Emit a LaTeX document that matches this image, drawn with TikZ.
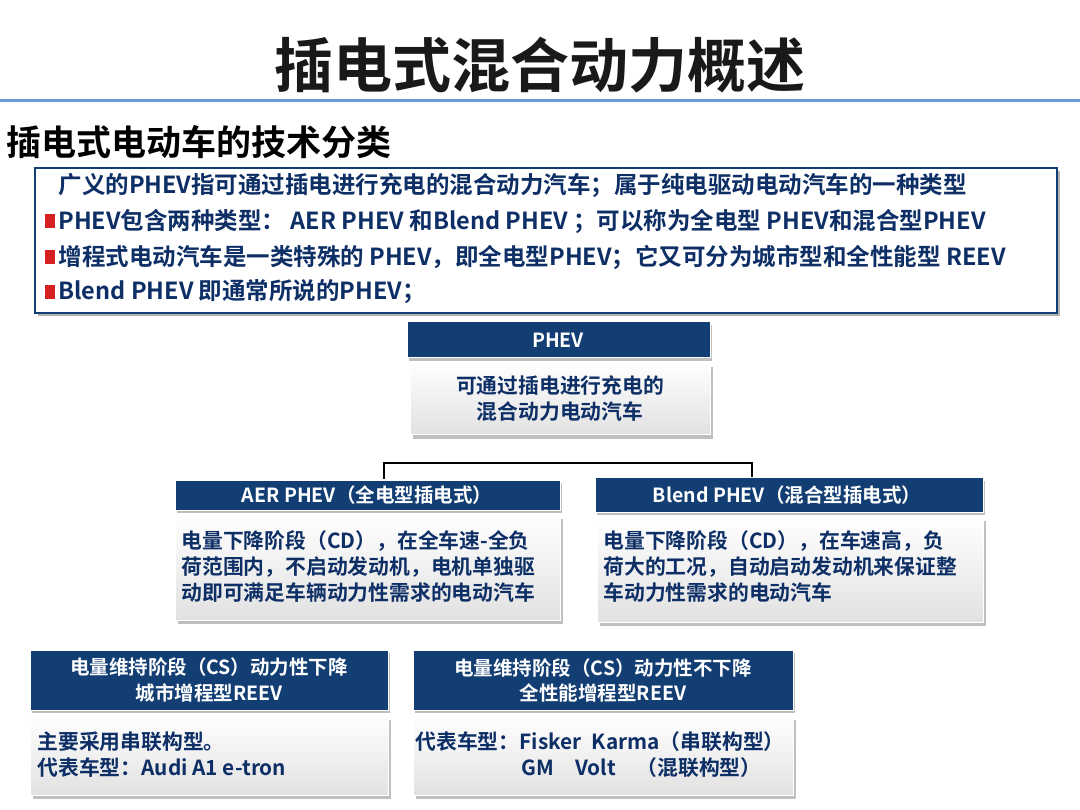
\documentclass[tikz,border=0pt]{standalone}
\usepackage{fontspec}
\setmainfont{Noto Sans CJK SC}[BoldFont={Noto Sans CJK SC Bold}]
\usetikzlibrary{shadows}
\definecolor{hdr}{HTML}{123E73}
\definecolor{bodyc}{HTML}{ECECEC}
\definecolor{txt}{HTML}{0D2F66}
\definecolor{bul}{HTML}{D42020}
\begin{document}
\begin{tikzpicture}[x=1pt,y=-1pt,
  hbox/.style={fill=hdr,draw=white,line width=1pt,drop shadow={shadow xshift=2pt,shadow yshift=-3pt,opacity=0.5}},
  bbox/.style={top color=white,bottom color=bodyc!90!gray,draw=white,line width=1pt,drop shadow={shadow xshift=3pt,shadow yshift=-4pt,opacity=0.5}},
  htxt/.style={text=white,font=\bfseries\fontsize{19.5}{25}\selectfont,align=center},
  btxt/.style={text=txt,font=\bfseries\fontsize{20.8}{26}\selectfont,align=left},
  ltxt/.style={text=txt,font=\bfseries\fontsize{23.5}{24}\selectfont,anchor=west},
  bl/.style={fill=bul}]
\useasboundingbox (0,0) rectangle (1080,810);
\fill[white] (0,0) rectangle (1080,810);
\node (title)[font=\bfseries\fontsize{59}{62}\selectfont,text=black!90] at (540,65) {插电式混合动力概述};
\fill[cyan!50!blue!60] (0,99) rectangle (1080,102);
\node (sub)[anchor=west,font=\bfseries\fontsize{35}{38}\selectfont] at (3,142) {插电式电动车的技术分类};
\path[fill=white,draw=hdr,line width=1.5pt,drop shadow={shadow xshift=3pt,shadow yshift=-3pt,opacity=0.6}] (35,168) rectangle (1057,313);
\node (l1)[ltxt] at (55,185) {广义的PHEV指可通过插电进行充电的混合动力汽车；属于纯电驱动电动汽车的一种类型};
\node (l2)[ltxt] at (55,221) {PHEV包含两种类型： AER PHEV 和Blend PHEV ；可以称为全电型 PHEV和混合型PHEV};
\node (l3)[ltxt] at (55,257) {增程式电动汽车是一类特殊的 PHEV，即全电型PHEV；它又可分为城市型和全性能型 REEV};
\node (l4)[ltxt] at (55,292) {Blend PHEV 即通常所说的PHEV；};
\foreach \y in {221,257,292} \fill[bul] (45,\y-7) rectangle (55,\y+7);
% PHEV
\path[hbox] (407,322) rectangle (710,358);
\node (ph)[htxt] at (558,340) {PHEV};
\path[bbox] (410,363) rectangle (710,435);
\node (phb)[btxt,align=center] at (560,399) {可通过插电进行充电的\\混合动力电动汽车};
% connector
\coordinate (ca) at (384,480); \coordinate (cb) at (752,478);
\draw[line width=1.5pt] (ca) |- (568,463) -| (cb);
% AER
\path[hbox] (175,480) rectangle (560,510);
\node (aer)[htxt] at (367,495) {AER PHEV（全电型插电式）};
\path[bbox] (175,515) rectangle (560,620);
\node (aerb)[btxt,anchor=west] at (178,567) {电量下降阶段（CD），在全车速-全负\\荷范围内，不启动发动机，电机单独驱\\动即可满足车辆动力性需求的电动汽车};
% Blend
\path[hbox] (595,478) rectangle (983,512);
\node (bld)[htxt] at (787,495) {Blend PHEV（混合型插电式）};
\path[bbox] (597,517) rectangle (983,622);
\node (bldb)[btxt,anchor=west] at (600,567) {电量下降阶段（CD），在车速高，负\\荷大的工况，自动启动发动机来保证整\\车动力性需求的电动汽车};
% bottom left
\path[hbox] (30,650) rectangle (388,710);
\node (bl1)[htxt] at (209,680) {电量维持阶段（CS）动力性下降\\城市增程型REEV};
\path[bbox] (30,716) rectangle (388,795);
\node (bl1b)[btxt,anchor=west] at (34,755) {主要采用串联构型。\\代表车型：Audi A1 e-tron};
% bottom right
\path[hbox] (413,650) rectangle (793,710);
\node (br1)[htxt] at (603,680) {电量维持阶段（CS）动力性不下降\\全性能增程型REEV};
\path[bbox] (413,716) rectangle (793,795);
\node (br1b)[btxt,anchor=west] at (412,755) {代表车型：Fisker\enspace Karma（串联构型）\\\hspace*{5.1em}GM\quad Volt\quad（混联构型）};
\end{tikzpicture}
\end{document}
